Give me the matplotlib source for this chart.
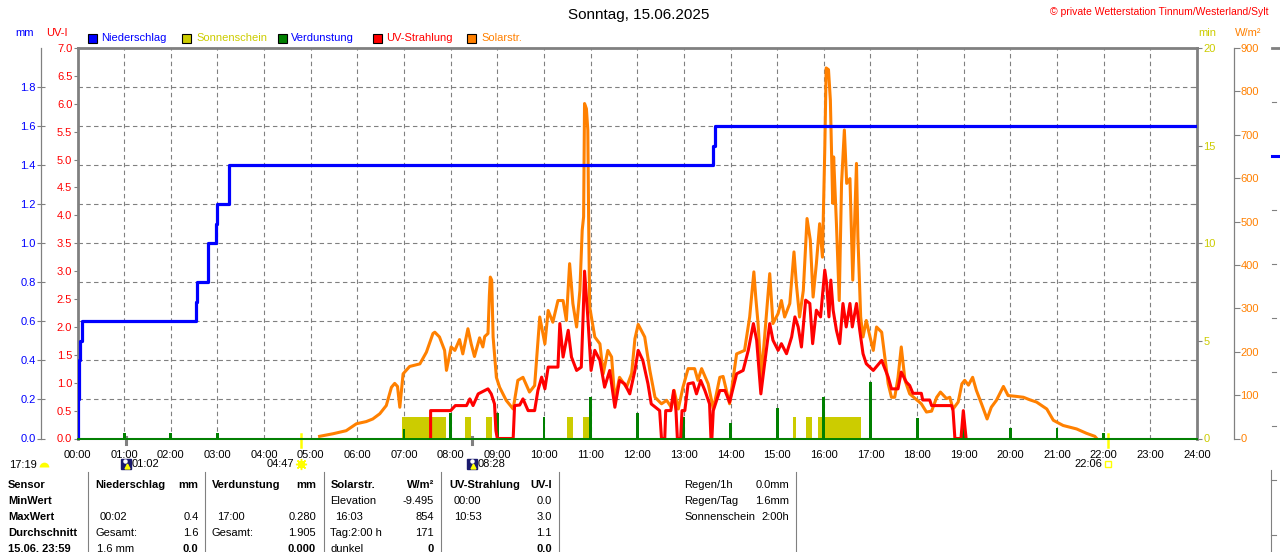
import matplotlib
matplotlib.use('Agg')
import matplotlib.pyplot as plt
from matplotlib.lines import Line2D
from matplotlib.patches import Rectangle
from matplotlib.markers import MarkerStyle

# ---------------- data ----------------
hours = list(range(25))
hour_labels = [f"{h:02d}:00" for h in hours]

# Niederschlag (cumulative mm, step)
rain_t = [0.00, 0.00, 0.03, 0.06, 0.09, 2.53, 2.57, 2.79, 2.97, 2.99, 3.25, 13.62, 13.66, 24.0]
rain_v = [0.0, 0.2, 0.4, 0.5, 0.6, 0.7, 0.8, 1.0, 1.1, 1.2, 1.4, 1.5, 1.6, 1.6]

# Sonnenschein (min) bars: start / end hour
sun_start = [6.95, 8.31, 8.76, 10.50, 10.84, 15.33, 15.61, 15.87, 15.99]
sun_end = [7.89, 8.44, 8.88, 10.62, 10.96, 15.40, 15.74, 15.97, 16.80]
sun_min = [1.1, 1.1, 1.1, 1.1, 1.1, 1.1, 1.1, 1.1, 1.1]

# Verdunstung (mm) hourly
ev_hours = [1, 2, 3, 7, 8, 9, 10, 11, 12, 13, 14, 15, 16, 17, 18, 19, 20, 21, 22]
ev_mm = [0.03, 0.03, 0.03, 0.05, 0.13, 0.13, 0.11, 0.21, 0.13, 0.11, 0.08, 0.155,
         0.21, 0.287, 0.105, 0.06, 0.055, 0.055, 0.03]

# Solarstrahlung (W/m2)
sol_t = [5.19, 5.48, 5.76, 5.98, 6.19, 6.33, 6.48, 6.62, 6.73, 6.80, 6.86, 6.91, 6.98,
         7.12, 7.34, 7.48, 7.62, 7.66, 7.76, 7.87, 7.91, 8.01, 8.09, 8.19, 8.26, 8.37,
         8.44, 8.51, 8.62, 8.69, 8.73, 8.80, 8.83, 8.85, 8.88, 8.91, 8.98, 9.05, 9.19,
         9.34, 9.44, 9.55, 9.69, 9.80, 9.91, 10.02, 10.09, 10.19, 10.30, 10.41, 10.48,
         10.55, 10.62, 10.70, 10.77, 10.82, 10.85, 10.87, 10.91, 10.94, 10.96, 10.98,
         11.09, 11.20, 11.27, 11.37, 11.45, 11.52, 11.62, 11.77, 11.88, 11.95, 12.02,
         12.16, 12.27, 12.38, 12.52, 12.63, 12.73, 12.79, 12.88, 12.98, 13.09, 13.23,
         13.30, 13.38, 13.52, 13.63, 13.77, 13.84, 13.98, 14.13, 14.30, 14.41, 14.50,
         14.54, 14.59, 14.66, 14.73, 14.84, 14.91, 15.02, 15.09, 15.16, 15.27, 15.36,
         15.41, 15.48, 15.56, 15.64, 15.71, 15.77, 15.84, 15.91, 15.97, 16.02, 16.05,
         16.10, 16.14, 16.19, 16.21, 16.27, 16.33, 16.38, 16.44, 16.49, 16.56, 16.62,
         16.70, 16.73, 16.79, 16.84, 16.91, 16.99, 17.06, 17.13, 17.24, 17.31, 17.38,
         17.45, 17.52, 17.59, 17.66, 17.74, 17.84, 17.98, 18.09, 18.20, 18.31, 18.42,
         18.50, 18.63, 18.70, 18.77, 18.88, 18.96, 19.02, 19.10, 19.19, 19.27, 19.38,
         19.50, 19.59, 19.70, 19.85, 19.95, 20.13, 20.28, 20.42, 20.56, 20.78, 20.92,
         21.13, 21.42, 21.63, 21.81, 21.85]
sol_w = [5, 11, 18, 34, 39, 45, 57, 76, 118, 127, 120, 72, 149,
         166, 172, 199, 242, 245, 234, 203, 157, 211, 203, 228, 195, 253,
         218, 189, 232, 211, 235, 242, 330, 372, 365, 234, 141, 118, 88,
         68, 134, 141, 107, 122, 280, 218, 295, 268, 318, 318, 272,
         403, 311, 257, 341, 480, 511, 772, 760, 711, 480, 303,
         234, 218, 149, 203, 188, 88, 141, 118, 150, 230, 263,
         234, 157, 95, 80, 88, 72, 111, 68, 118, 161, 161,
         134, 161, 126, 68, 141, 143, 80, 195, 203, 280, 384,
         326, 265, 141, 234, 380, 265, 288, 318, 280, 311, 430,
         357, 280, 341, 507, 457, 326, 403, 495, 418, 665, 854,
         850, 780, 542, 649, 495, 318, 588, 711, 588, 599, 365,
         634, 465, 280, 234, 272, 234, 203, 257, 245, 185, 126,
         95, 95, 140, 211, 134, 103, 90, 80, 61, 63, 95,
         107, 92, 95, 68, 84, 126, 134, 123, 141, 111, 80,
         45, 72, 88, 120, 99, 97, 95, 89, 84, 68, 42,
         30, 22, 12, 5, 0]

# UV-Strahlung (UV-I)
uv_t = [7.57, 7.57, 8.00, 8.10, 8.34, 8.41, 8.48, 8.59, 8.73, 8.80, 8.87, 8.94, 8.97, 9.00,
        9.34, 9.37, 9.48, 9.55, 9.66, 9.80, 9.87, 9.95, 10.02, 10.09, 10.30, 10.34, 10.41,
        10.52, 10.59, 10.70, 10.80, 10.84, 10.87, 10.94, 11.01, 11.09, 11.20, 11.30, 11.41,
        11.52, 11.62, 11.73, 11.84, 11.95, 12.02, 12.12, 12.23, 12.30, 12.48, 12.52, 12.59,
        12.61, 12.72, 12.78, 12.83, 12.86, 12.93, 12.96, 13.02, 13.09, 13.20, 13.27, 13.36,
        13.45, 13.55, 13.58, 13.60, 13.63, 13.77, 13.88, 13.98, 14.13, 14.27, 14.38, 14.49,
        14.56, 14.65, 14.73, 14.84, 14.91, 15.02, 15.09, 15.20, 15.31, 15.38, 15.45, 15.52,
        15.61, 15.70, 15.76, 15.84, 15.93, 16.02, 16.06, 16.11, 16.15, 16.20, 16.27, 16.34,
        16.41, 16.48, 16.56, 16.61, 16.70, 16.77, 16.84, 16.91, 17.06, 17.24, 17.38, 17.45,
        17.59, 17.66, 17.77, 17.84, 17.91, 18.09, 18.12, 18.27, 18.31, 18.74, 18.77, 18.81,
        18.94, 18.99, 19.05]
uv_i = [0.0, 0.5, 0.5, 0.59, 0.59, 0.71, 0.59, 0.80, 0.86, 0.89, 0.80, 0.62, 0.14, 0.0,
        0.0, 0.59, 0.60, 0.71, 0.50, 0.50, 0.86, 1.10, 0.89, 1.28, 1.28, 2.06, 1.46,
        1.94, 1.46, 1.22, 1.28, 2.20, 3.00, 2.18, 1.22, 1.58, 1.40, 0.92, 1.22,
        0.56, 1.04, 0.98, 0.80, 1.22, 1.58, 1.40, 0.98, 0.62, 0.50, 0.0, 0.0,
        0.50, 0.50, 0.86, 0.50, 0.0, 0.0, 0.50, 0.50, 0.98, 1.00, 0.80, 1.04,
        0.86, 0.62, 0.0, 0.0, 0.50, 0.86, 0.86, 0.65, 1.16, 1.22, 1.58, 2.06,
        1.76, 0.80, 1.34, 2.06, 1.76, 1.58, 1.70, 1.52, 1.82, 2.18, 2.00, 1.64,
        2.48, 2.42, 1.70, 2.30, 2.18, 3.02, 2.78, 2.18, 2.84, 2.30, 1.94, 1.70,
        2.42, 2.00, 2.42, 2.00, 2.42, 1.94, 1.52, 1.34, 1.22, 1.40, 1.10, 0.89,
        0.89, 1.19, 1.01, 0.95, 0.81, 0.81, 0.69, 0.69, 0.59, 0.59, 0.50, 0.0,
        0.0, 0.50, 0.0]

mm_ticks = [0.0, 0.2, 0.4, 0.6, 0.8, 1.0, 1.2, 1.4, 1.6, 1.8]
uv_ticks = [0.0, 0.5, 1.0, 1.5, 2.0, 2.5, 3.0, 3.5, 4.0, 4.5, 5.0, 5.5, 6.0, 6.5, 7.0]
min_ticks = [0, 5, 10, 15, 20]
min_minor = [2, 4, 6, 8, 12, 14, 16, 18]
w_ticks = [0, 100, 200, 300, 400, 500, 600, 700, 800, 900]

moon_times = [1 + 2 / 60, 8 + 28 / 60]
moon_labels = ["01:02", "08:28"]
sunrise_t, sunrise_lbl = 4 + 47 / 60, "04:47"
sunset_t, sunset_lbl = 22 + 6 / 60, "22:06"
moonset_lbl = "17:19"

title = "Sonntag, 15.06.2025"
copyright_txt = "\u00a9 private Wetterstation Tinnum/Westerland/Sylt"

legend_items = [("Niederschlag", "#0000FF", "#0000FF"),
                ("Sonnenschein", "#CCCC00", "#CCCC00"),
                ("Verdunstung", "#008000", "#0000FF"),
                ("UV-Strahlung", "#FF0000", "#FF0000"),
                ("Solarstr.", "#FF8000", "#FF8000")]

row_labels = ["Sensor", "MinWert", "MaxWert", "Durchschnitt", "15.06. 23:59"]
tbl_nieder = [("Niederschlag", "mm"), ("", ""), ("00:02", "0.4"), ("Gesamt:", "1.6"), ("1.6 mm", "0.0")]
tbl_verd = [("Verdunstung", "mm"), ("", ""), ("17:00", "0.280"), ("Gesamt:", "1.905"), ("", "0.000")]
tbl_solar = [("Solarstr.", "W/m\u00b2"), ("Elevation", "-9.495"), ("16:03", "854"), ("Tag:2:00 h", "171"), ("dunkel", "0")]
tbl_uv = [("UV-Strahlung", "UV-I"), ("00:00", "0.0"), ("10:53", "3.0"), ("", "1.1"), ("", "0.0")]
summary = [("Regen/1h", "0.0mm"), ("Regen/Tag", "1.6mm"), ("Sonnenschein", "2:00h")]

# ---------------- style ----------------
BLUE, YEL, GREEN, RED, ORA, GRAY = "#0000FF", "#CCCC00", "#008000", "#FF0000", "#FF8000", "#808080"
plt.rcParams['font.family'] = ['Liberation Sans', 'DejaVu Sans']
plt.rcParams['font.size'] = 8

W, H = 1280, 552
fig = plt.figure(figsize=(W / 100, H / 100), dpi=100)
fig.patch.set_facecolor('white')


def fx(x):
    return x / W


def fy(y):
    return 1 - y / H


L, R, T, B = 77.5, 1197.0, 48.0, 438.5
ax = fig.add_axes([fx(L), fy(B), (R - L) / W, (B - T) / H])
ax_sun = ax.twinx()
ax_ev = ax.twinx()
ax_sol = ax.twinx()
ax_uv = ax.twinx()
ax_rain = ax.twinx()


def ay(y):
    return (B - y) / (B - T)


px2pt = 0.72

for a in [ax, ax_sun, ax_ev, ax_sol, ax_uv, ax_rain]:
    a.set_xlim(0, 24)
    for s in a.spines.values():
        s.set_visible(False)
    if a is not ax:
        a.tick_params(axis='x', which='both', bottom=False, top=False, labelbottom=False, labeltop=False)

# main axis (mm) + grid
ax.set_ylim(0, 2.0)
ax.set_xticks(hours)
ax.set_xticklabels(hour_labels)
ax.tick_params(axis='x', length=0, pad=8, labelsize=8, colors='black')
ax.set_yticks(mm_ticks)
ax.set_yticklabels([f"{v:.1f}" for v in mm_ticks])
ax.tick_params(axis='y', direction='inout', length=8 * px2pt, width=0.8, color=GRAY,
               labelcolor=BLUE, pad=1, labelsize=8)
ax.spines['left'].set_visible(True)
ax.spines['left'].set_position(('outward', 36.5 * px2pt))
ax.spines['left'].set_color(GRAY)
ax.spines['left'].set_linewidth(0.9)
ax.spines['top'].set_visible(True)
ax.spines['top'].set_color(GRAY)
ax.spines['top'].set_linewidth(2.0)
ax.spines['bottom'].set_visible(True)
ax.spines['bottom'].set_color(GRAY)
ax.spines['bottom'].set_linewidth(1.5)
ax.grid(True, color=GRAY, linestyle=(0, (4, 3)), linewidth=0.8)
ax.set_axisbelow(True)

# sunshine axis (min)
ax_sun.set_ylim(0, 20)
ax_sun.spines['right'].set_visible(True)
ax_sun.spines['right'].set_color(GRAY)
ax_sun.spines['right'].set_linewidth(2.0)
ax_sun.set_yticks(min_ticks)
ax_sun.set_yticklabels([str(v) for v in min_ticks])
ax_sun.set_yticks(min_minor, minor=True)
ax_sun.tick_params(axis='y', which='major', direction='out', length=5 * px2pt, width=0.8,
                   color=GRAY, labelcolor=YEL, pad=1, labelsize=8)
ax_sun.tick_params(axis='y', which='minor', direction='in', length=5 * px2pt, width=0.8, color=GRAY)
ax_sun.bar(sun_start, sun_min, width=[e - s for s, e in zip(sun_start, sun_end)],
           align='edge', color=YEL, linewidth=0)

# evaporation
ax_ev.set_ylim(0, 2.0)
ax_ev.set_yticks([])
ax_ev.bar(ev_hours, ev_mm, width=0.06, color=GREEN, linewidth=0)

# solar
ax_sol.set_ylim(0, 900)
ax_sol.spines['right'].set_visible(True)
ax_sol.spines['right'].set_position(('outward', 37.3 * px2pt))
ax_sol.spines['right'].set_color(GRAY)
ax_sol.spines['right'].set_linewidth(0.9)
ax_sol.set_yticks(w_ticks)
ax_sol.set_yticklabels([str(v) for v in w_ticks])
ax_sol.tick_params(axis='y', direction='out', length=5.5 * px2pt, width=0.8, color=GRAY,
                   labelcolor=ORA, pad=0.5, labelsize=8)
ax_sol.plot(sol_t, sol_w, color=ORA, linewidth=2.2)

# UV
ax_uv.set_ylim(0, 7)
ax_uv.spines['left'].set_visible(True)
ax_uv.spines['left'].set_color(GRAY)
ax_uv.spines['left'].set_linewidth(2.0)
ax_uv.yaxis.tick_left()
ax_uv.set_yticks(uv_ticks)
ax_uv.set_yticklabels([f"{v:.1f}" for v in uv_ticks])
ax_uv.tick_params(axis='y', direction='out', length=4.5 * px2pt, width=0.8, color=GRAY,
                  labelcolor=RED, pad=0.5, labelsize=8)
ax_uv.plot(uv_t, uv_i, color=RED, linewidth=2.2)

# rain
ax_rain.set_ylim(0, 2.0)
ax_rain.set_yticks([])
ax_rain.plot(rain_t, rain_v, drawstyle='steps-post', color=BLUE, linewidth=2.3)
ax_rain.axhline(0, color=GREEN, linewidth=1.4, clip_on=False)

# ---------------- bottom sun / moon marks ----------------
xt = ax.get_xaxis_transform()
for t, lbl in zip(moon_times, moon_labels):
    ax.plot([t, t], [ay(437), ay(444)], transform=xt, color=GRAY, lw=2.2, clip_on=False)
    ax.plot(t, ay(464), transform=xt, marker='s', ms=7.5, color='#1a1a6e', clip_on=False)
    ax.plot(t - 0.02, ay(461), transform=xt, marker='o', ms=2.2, color='white', clip_on=False)
    ax.plot(t + 0.02, ay(466), transform=xt, marker='^', ms=3.5, color='#FFFF00', clip_on=False)
    ax.annotate(lbl, xy=(t, ay(464)), xycoords=xt, xytext=(5.5 * px2pt, 0),
                textcoords='offset points', ha='left', va='center', fontsize=8)
for t, lbl, mk in [(sunrise_t, sunrise_lbl, 'sun'), (sunset_t, sunset_lbl, 'set')]:
    ax.plot([t, t], [ay(434), ay(447)], transform=xt, color='#FFFF00', lw=1.8, clip_on=False)
    if mk == 'sun':
        ax.plot(t, ay(464), transform=xt, marker=(8, 2, 0), ms=8, color='#FFFF00',
                mew=1, clip_on=False)
        ax.plot(t, ay(464), transform=xt, marker='o', ms=4.5, color='#FFFF00', clip_on=False)
    else:
        ax.plot(t, ay(464), transform=xt, marker='s', ms=4, mfc='none', mec='#FFFF00',
                mew=1, clip_on=False)
    ax.annotate(lbl, xy=(t, ay(464)), xycoords=xt, xytext=(-6 * px2pt, 0),
                textcoords='offset points', ha='right', va='center', fontsize=8)

fig.text(fx(9), fy(465), moonset_lbl, ha='left', va='center', fontsize=8)
half = MarkerStyle('o', fillstyle='top')
fig.lines.append(Line2D([fx(44)], [fy(467)], marker=half, ms=7, color='#FFFF00',
                        markerfacecoloralt='none', mec='none', transform=fig.transFigure))

# ---------------- header texts ----------------
fig.text(fx(639), fy(15), title, ha='center', va='center', fontsize=11)
fig.text(fx(1268), fy(12), copyright_txt, ha='right', va='center', fontsize=7.5, color=RED)
fig.text(fx(15), fy(33), "mm", ha='left', va='center', color=BLUE, fontsize=8)
fig.text(fx(46), fy(33), "UV-I", ha='left', va='center', color=RED, fontsize=8)
fig.text(fx(1198), fy(33), "min", ha='left', va='center', color=YEL, fontsize=8)
fig.text(fx(1235), fy(33), "W/m\u00b2", ha='left', va='center', color=ORA, fontsize=8)

sq_x = [87.5, 182, 277.5, 372.5, 467]
tx_x = [101, 196.5, 291, 386.5, 481.5]
for (name, c, tc), sx, tx in zip(legend_items, sq_x, tx_x):
    fig.patches.append(Rectangle((fx(sx), fy(42.5)), 9 / W, 9 / H, facecolor=c,
                                 edgecolor='black', linewidth=0.8, transform=fig.transFigure))
    fig.text(fx(tx), fy(38), name, ha='left', va='center', color=tc, fontsize=8)

# ---------------- table ----------------
row_y = [485, 501, 517, 532.5, 548.5]
for lbl, y in zip(row_labels, row_y):
    fig.text(fx(8), fy(y), lbl, ha='left', va='center', fontsize=8, fontweight='bold')

cols = [(tbl_nieder, 95, 198.5), (tbl_verd, 212, 316), (tbl_solar, 330.5, 434), (tbl_uv, 449, 552)]
for tbl, lx, rx in cols:
    for i, ((lt, rt), y) in enumerate(zip(tbl, row_y)):
        hdr = (i == 0)
        last = (i == len(tbl) - 1)
        indent = 5 if (lt[:1].isdigit() and i in (1, 2)) else (2 if (lt[:1].isdigit()) else 0)
        if lt:
            fig.text(fx(lx + indent), fy(y), lt, ha='left', va='center', fontsize=8,
                     fontweight='bold' if hdr else 'normal')
        if rt:
            fig.text(fx(rx), fy(y), rt, ha='right', va='center', fontsize=8,
                     fontweight='bold' if (hdr or last) else 'normal')

for y, (lt, rt) in zip(row_y, summary):
    fig.text(fx(684), fy(y), lt, ha='left', va='center', fontsize=8)
    fig.text(fx(789), fy(y), rt, ha='right', va='center', fontsize=8)

for sx in [88, 205, 324, 441, 559, 795.5]:
    fig.lines.append(Line2D([fx(sx), fx(sx)], [fy(472), fy(552)], color=GRAY, lw=0.8,
                            transform=fig.transFigure))

# ---------------- neighbour chart fragment at the right edge ----------------
fig.lines.append(Line2D([fx(1272), fx(1280)], [fy(48), fy(48)], color=GRAY, lw=2.0,
                        transform=fig.transFigure))
for y in [102, 210, 264, 318, 372, 426]:
    fig.lines.append(Line2D([fx(1272), fx(1276)], [fy(y), fy(y)], color=GRAY, lw=0.8,
                            transform=fig.transFigure))
fig.lines.append(Line2D([fx(1272), fx(1280)], [fy(156), fy(156)], color=BLUE, lw=2.2,
                        transform=fig.transFigure))
fig.lines.append(Line2D([fx(1271), fx(1271)], [fy(470), fy(552)], color=GRAY, lw=0.8,
                        transform=fig.transFigure))
for y in [480, 535]:
    fig.lines.append(Line2D([fx(1271), fx(1276)], [fy(y), fy(y)], color=GRAY, lw=0.8,
                            transform=fig.transFigure))

fig.savefig('out.png', dpi=100, facecolor='white')
